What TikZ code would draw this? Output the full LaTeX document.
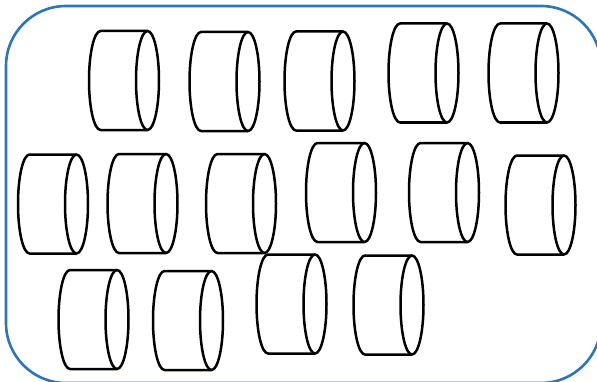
\documentclass[tikz,border=0pt]{standalone}
\begin{document}
\begin{tikzpicture}[x=1pt,y=1pt]
\definecolor{frameblue}{RGB}{46,117,182}
\tikzset{
  cylline/.style={draw=black,line width=2.5pt,line join=round},
  frameline/.style={draw=frameblue,line width=2.6pt},
  cyl/.pic={
    \draw[cylline] (47,49.5) -- (0,49.5) arc[start angle=90,end angle=270,x radius=11.5,y radius=49.5] -- (47,-49.5);
    \draw[cylline] (47,0) ellipse[x radius=11.5,y radius=49.5];
  }
}
\useasboundingbox (0,0) rectangle (597,381);
\draw[frameline,rounded corners=60pt] (6,375) rectangle (601,-2);
% row 1
\pic at (100.5,300.5) {cyl};
\pic at (201,299.5) {cyl};
\pic at (296,300) {cyl};
\pic at (400,308) {cyl};
\pic at (500,308) {cyl};
% row 2
\pic at (29.5,177) {cyl};
\pic at (119,177.5) {cyl};
\pic at (217.5,177.5) {cyl};
\pic at (317.5,188.5) {cyl};
\pic at (420.5,188.5) {cyl};
\pic at (517,176) {cyl};
% row 3
\pic at (70,61.5) {cyl};
\pic at (164.5,60.5) {cyl};
\pic at (268,77) {cyl};
\pic at (365,76) {cyl};
\end{tikzpicture}
\end{document}
